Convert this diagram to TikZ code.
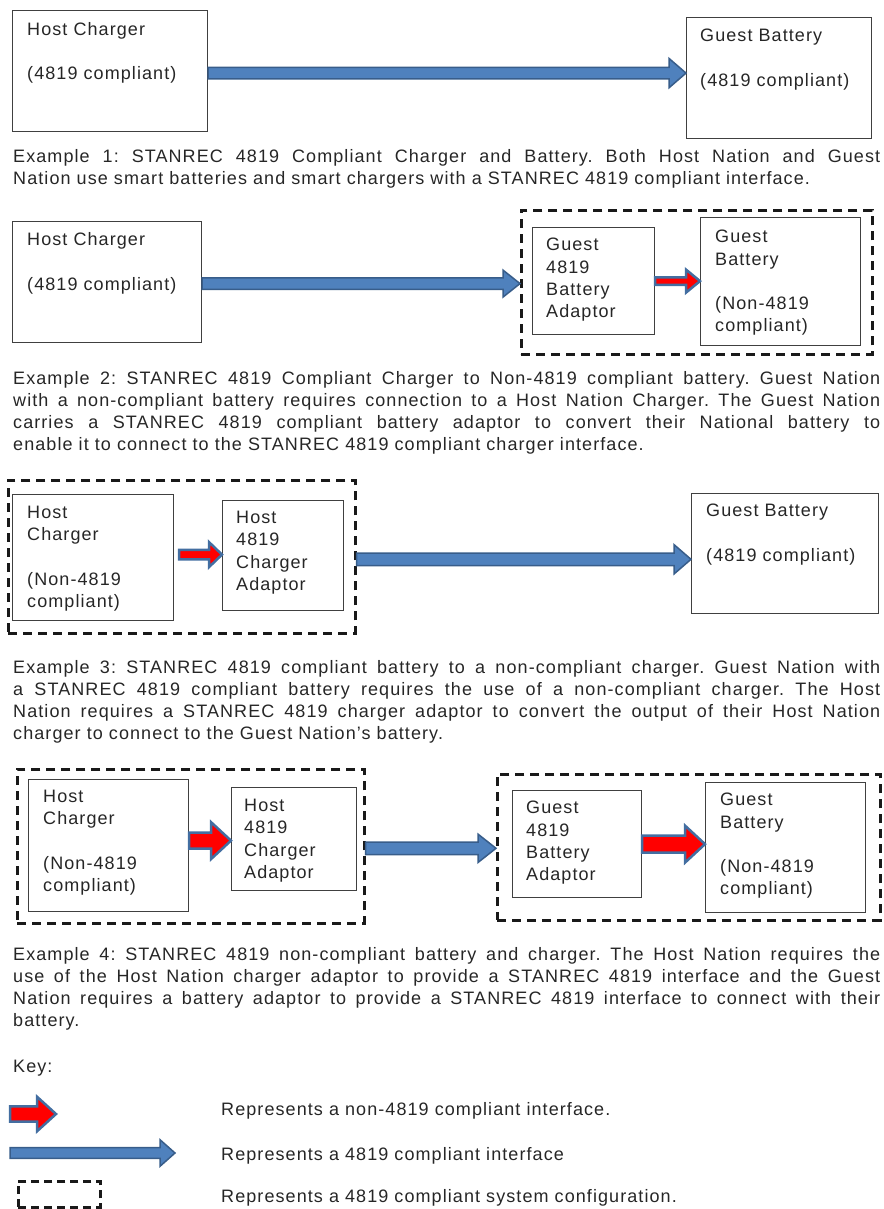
\documentclass[tikz,border=0pt]{standalone}
\usepackage{fontspec}
\setmainfont{Liberation Sans}[LetterSpace=6]
\usetikzlibrary{calc}
\frenchspacing

\definecolor{ifblue}{HTML}{4F81BD}
\definecolor{ifedge}{HTML}{385D8A}
\definecolor{ifred}{HTML}{FF0000}

% block arrow: style, from, to, half shaft, half head, head length
\newcommand{\iface}[6]{%
  \path[#1] let \p1=(#2), \p2=(#3) in
    (\x1,\y1+#4) -- (\x2-#6,\y1+#4) -- (\x2-#6,\y1+#5) -- (\x2,\y1)
    -- (\x2-#6,\y1-#5) -- (\x2-#6,\y1-#4) -- (\x1,\y1-#4) -- cycle;}

\begin{document}
\begin{tikzpicture}[x=1pt,y=-1pt,line join=miter,
  unitbox/.style={draw=black!75,line width=1.2pt,anchor=north west,inner sep=0pt},
  unittext/.style={anchor=north west,inner sep=0pt,align=left,text=black!85,font=\fontsize{18}{22.3}\selectfont},
  cfg/.style={draw=black!90,dash pattern=on 9pt off 6pt,line width=2.6pt,anchor=north west,inner sep=0pt},
  note/.style={anchor=north west,inner sep=0pt,text width=867pt,align=justify,text=black!85,font=\fontsize{18}{22}\selectfont},
  keytext/.style={anchor=base west,inner sep=0pt,text=black!85,font=\fontsize{18}{22}\selectfont},
  compliant/.style={fill=ifblue,draw=ifedge,line width=1.5pt},
  noncompliant/.style={fill=ifred,draw=ifblue!85!black,line width=2.5pt}]
  \useasboundingbox (0,0) rectangle (883,1209);

  \node[unitbox,minimum width=195,minimum height=121] (hc1) at (12,10) {};
  \node[unittext] (hc1t) at ([shift={(15,12)}]hc1.north west) {Host Charger\\[22.3pt](4819 compliant)};
  \node[unitbox,minimum width=185,minimum height=121] (gb1) at (686,17) {};
  \node[unittext] (gb1t) at ([shift={(14,12)}]gb1.north west) {Guest Battery\\[22.3pt](4819 compliant)};
  \iface{compliant}{[yshift=-2]hc1.east}{gb1.west}{5.8pt}{14.7pt}{17pt}
  \node[note] (ex1) at (13,149) {Example 1: STANREC 4819 Compliant Charger and Battery. Both Host Nation and Guest\linebreak Nation use smart batteries and smart chargers with a STANREC 4819 compliant interface.};

  \node[unitbox,minimum width=189,minimum height=121] (hc2) at (12,221) {};
  \node[unittext] (hc2t) at ([shift={(15,11.5)}]hc2.north west) {Host Charger\\[22.3pt](4819 compliant)};
  \node[cfg,minimum width=351,minimum height=144] (cfg2) at (520,209) {};
  \node[unitbox,minimum width=122,minimum height=107] (ga2) at (532,227) {};
  \node[unittext] (ga2t) at ([shift={(14,11)}]ga2.north west) {Guest\\4819\\Battery\\Adaptor};
  \node[unitbox,minimum width=160,minimum height=128] (gb2) at (700,217) {};
  \node[unittext] (gb2t) at ([shift={(15,13)}]gb2.north west) {Guest\\Battery\\[22.3pt](Non-4819\\compliant)};
  \iface{compliant}{[yshift=-1.5]hc2.east}{cfg2.west}{5.8pt}{13.5pt}{17pt}
  \iface{noncompliant}{ga2.east}{gb2.west}{3.8pt}{11.5pt}{14pt}
  \node[note] (ex2) at (13,371) {Example 2: STANREC 4819 Compliant Charger to Non-4819 compliant battery. Guest Nation\linebreak with a non-compliant battery requires connection to a Host Nation Charger. The Guest Nation\linebreak carries a STANREC 4819 compliant battery adaptor to convert their National battery to\linebreak enable it to connect to the STANREC 4819 compliant charger interface.};

  \node[cfg,minimum width=347,minimum height=153] (cfg3) at (7,479) {};
  \node[unitbox,minimum width=161,minimum height=126] (hc3) at (12,494) {};
  \node[unittext] (hc3t) at ([shift={(15,12)}]hc3.north west) {Host\\Charger\\[22.3pt](Non-4819\\compliant)};
  \node[unitbox,minimum width=121,minimum height=110] (ha3) at (222,500) {};
  \node[unittext] (ha3t) at ([shift={(14,11)}]ha3.north west) {Host\\4819\\Charger\\Adaptor};
  \node[unitbox,minimum width=187,minimum height=120] (gb3) at (691,493) {};
  \node[unittext] (gb3t) at ([shift={(15,11)}]gb3.north west) {Guest Battery\\[22.3pt](4819 compliant)};
  \iface{noncompliant}{[shift={(5,-3)}]hc3.east}{ha3.west}{4.8pt}{12.5pt}{13pt}
  \iface{compliant}{[yshift=-2.5]cfg3.east}{gb3.west}{6.3pt}{14.7pt}{17pt}
  \node[note] (ex3) at (13,660) {Example 3: STANREC 4819 compliant battery to a non-compliant charger. Guest Nation with\linebreak a STANREC 4819 compliant battery requires the use of a non-compliant charger. The Host\linebreak Nation requires a STANREC 4819 charger adaptor to convert the output of their Host Nation\linebreak charger to connect to the Guest Nation’s battery.};

  \node[cfg,minimum width=347,minimum height=154] (cfg4a) at (16,768) {};
  \node[unitbox,minimum width=160,minimum height=132] (hc4) at (28,779) {};
  \node[unittext] (hc4t) at ([shift={(15,11)}]hc4.north west) {Host\\Charger\\[22.3pt](Non-4819\\compliant)};
  \node[unitbox,minimum width=125,minimum height=103] (ha4) at (231,787) {};
  \node[unittext] (ha4t) at ([shift={(13,12)}]ha4.north west) {Host\\4819\\Charger\\Adaptor};
  \node[cfg,minimum width=383,minimum height=146] (cfg4b) at (496,773) {};
  \node[unitbox,minimum width=129,minimum height=107] (ga4) at (512,790) {};
  \node[unittext] (ga4t) at ([shift={(14,11)}]ga4.north west) {Guest\\4819\\Battery\\Adaptor};
  \node[unitbox,minimum width=160,minimum height=130] (gb4) at (705,782) {};
  \node[unittext] (gb4t) at ([shift={(15,11)}]gb4.north west) {Guest\\Battery\\[22.3pt](Non-4819\\compliant)};
  \iface{noncompliant}{[yshift=5]hc4.east}{ha4.west}{8pt}{18.5pt}{20pt}
  \iface{compliant}{[yshift=-2]cfg4a.east}{cfg4b.west}{6.3pt}{14.2pt}{18pt}
  \iface{noncompliant}{ga4.east}{gb4.west}{8.5pt}{18.5pt}{20pt}
  \node[note] (ex4) at (13,947) {Example 4: STANREC 4819 non-compliant battery and charger. The Host Nation requires the\linebreak use of the Host Nation charger adaptor to provide a STANREC 4819 interface and the Guest\linebreak Nation requires a battery adaptor to provide a STANREC 4819 interface to connect with their\linebreak battery.};

  \node[keytext] (key) at (13,1072.5) {Key:};
  \coordinate (k1a) at (10,1114);
  \coordinate (k1b) at (56,1114);
  \iface{noncompliant}{k1a}{k1b}{7.7pt}{17.3pt}{19pt}
  \node[keytext] (k1t) at (221,1115.5) {Represents a non-4819 compliant interface.};
  \coordinate (k2a) at (10,1153);
  \coordinate (k2b) at (175,1153);
  \iface{compliant}{k2a}{k2b}{5.3pt}{13.3pt}{15pt}
  \node[keytext] (k2t) at (221,1160.5) {Represents a 4819 compliant interface};
  \node[cfg,dash pattern=on 8pt off 5pt,minimum width=82,minimum height=26] (k3) at (17,1180) {};
  \node[keytext] (k3t) at (221,1202.5) {Represents a 4819 compliant system configuration.};
\end{tikzpicture}
\end{document}
